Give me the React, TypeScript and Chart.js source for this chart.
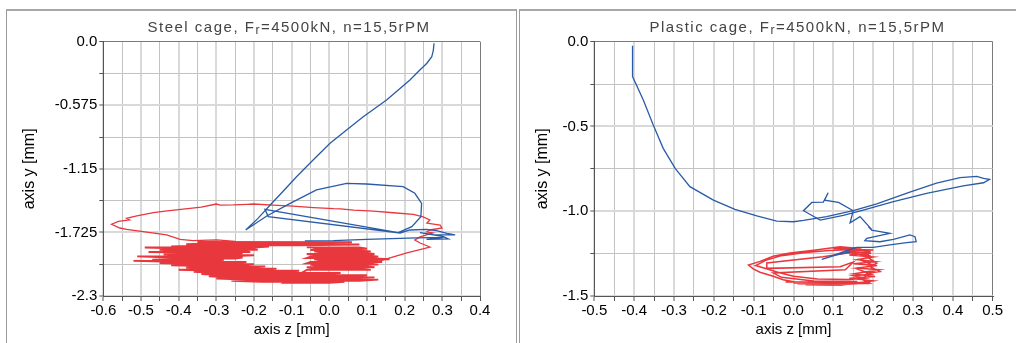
import React, { useEffect, useRef } from 'react';
import { Chart, registerables } from 'chart.js';

Chart.register(...registerables);

type Pt = [number, number];

// ---------- text ----------
const steelTitle = ['Steel cage, F', 'r', '=4500kN, n=15,5rPM'];
const plasticTitle = ['Plastic cage, F', 'r', '=4500kN, n=15,5rPM'];
const axisZTitle = 'axis z [mm]';
const axisYTitle = 'axis y [mm]';

// ---------- ticks ----------
const steelXTicks = [-0.6, -0.5, -0.4, -0.3, -0.2, -0.1, 0.0, 0.1, 0.2, 0.3, 0.4];
const steelXLabels = ['-0.6', '-0.5', '-0.4', '-0.3', '-0.2', '-0.1', '0.0', '0.1', '0.2', '0.3', '0.4'];
const steelYTicks = [0, -0.575, -1.15, -1.725, -2.3];
const steelYLabels = ['0.0', '-0.575', '-1.15', '-1.725', '-2.3'];

const plasticXTicks = [-0.5, -0.4, -0.3, -0.2, -0.1, 0.0, 0.1, 0.2, 0.3, 0.4, 0.5];
const plasticXLabels = ['-0.5', '-0.4', '-0.3', '-0.2', '-0.1', '0.0', '0.1', '0.2', '0.3', '0.4', '0.5'];
const plasticYTicks = [0, -0.5, -1.0, -1.5];
const plasticYLabels = ['0.0', '-0.5', '-1.0', '-1.5'];

// ---------- steel cage data [z, y] ----------
const steelBlue: Pt[] = [
  [0.278, -0.014], [0.276, -0.080], [0.272, -0.136], [0.259, -0.195], [0.237, -0.268], [0.214, -0.346],
  [0.152, -0.527], [0.090, -0.678], [0.045, -0.800], [0.002, -0.919], [-0.043, -1.070], [-0.087, -1.221],
  [-0.122, -1.350], [-0.157, -1.477], [-0.190, -1.600], [-0.222, -1.703],
  [-0.166, -1.576], [-0.104, -1.462], [-0.034, -1.341], [0.046, -1.281], [0.099, -1.287], [0.196, -1.311],
  [0.227, -1.371], [0.245, -1.462], [0.243, -1.583], [0.219, -1.673], [0.183, -1.727],
  [-0.171, -1.516], [-0.162, -1.582], [0.188, -1.730], [0.214, -1.703], [0.258, -1.697], [0.285, -1.709],
  [0.312, -1.733], [0.334, -1.748], [0.276, -1.745], [0.241, -1.727], [0.303, -1.763], [0.316, -1.784],
  [0.258, -1.787], [0.303, -1.769], [0.232, -1.775], [0.099, -1.787], [0.011, -1.799], [-0.065, -1.802],
];

const steelRedOutline: Pt[] = [
  [0.081, -2.010], [0.126, -1.992], [0.161, -1.956], [0.206, -1.911], [0.267, -1.857], [0.241, -1.821],
  [0.227, -1.793], [0.241, -1.766], [0.275, -1.730], [0.259, -1.721], [0.267, -1.703], [0.299, -1.685],
  [0.294, -1.658], [0.259, -1.640], [0.267, -1.612], [0.249, -1.585], [0.223, -1.562], [0.170, -1.547],
  [0.117, -1.532], [0.064, -1.524], [0.030, -1.512], [0.011, -1.510], [-0.042, -1.500], [-0.096, -1.488],
  [-0.149, -1.478], [-0.202, -1.468], [-0.219, -1.471], [-0.255, -1.476], [-0.290, -1.478], [-0.300, -1.468],
  [-0.340, -1.497], [-0.388, -1.515], [-0.430, -1.530], [-0.467, -1.546], [-0.511, -1.576], [-0.538, -1.597],
  [-0.530, -1.612], [-0.560, -1.625], [-0.578, -1.651], [-0.556, -1.685], [-0.538, -1.697], [-0.494, -1.718],
  [-0.432, -1.748], [-0.396, -1.787], [-0.362, -1.800], [-0.299, -1.793], [-0.250, -1.806],
];

const steelRedDense: Pt[] = [
  [-0.35, -1.812], [0.06, -1.814], [-0.12, -1.822], [-0.30, -1.822], [-0.38, -1.832], [0.08, -1.834],
  [-0.08, -1.842], [-0.33, -1.842], [-0.42, -1.852], [-0.16, -1.852], [-0.20, -1.862], [-0.49, -1.862],
  [-0.36, -1.872], [-0.22, -1.872], [-0.19, -1.882], [-0.45, -1.882], [-0.40, -1.892], [-0.24, -1.892],
  [-0.21, -1.902], [-0.48, -1.902], [-0.32, -1.912], [-0.23, -1.912], [-0.26, -1.922], [-0.44, -1.922],
  [-0.38, -1.932], [-0.20, -1.932], [-0.27, -1.942], [-0.51, -1.942], [-0.42, -1.952], [-0.23, -1.952],
  [-0.25, -1.962], [-0.35, -1.962], [-0.47, -1.972], [-0.28, -1.972], [-0.31, -1.982], [-0.52, -1.982],
  [-0.39, -1.992], [-0.22, -1.992], [-0.26, -2.002], [-0.45, -2.002], [-0.36, -2.012], [-0.20, -2.012],
  [-0.24, -2.022], [-0.42, -2.022], [-0.31, -2.032], [-0.17, -2.032], [-0.22, -2.042], [-0.38, -2.042],
  [-0.33, -2.052], [-0.14, -2.052], [-0.21, -2.062], [-0.40, -2.062], [-0.30, -2.072], [-0.08, -2.072],
  [-0.12, -2.082], [-0.36, -2.082], [-0.29, -2.092], [0.03, -2.092], [-0.04, -2.102], [-0.34, -2.102],
  [-0.27, -2.112], [0.10, -2.112], [0.05, -2.122], [-0.32, -2.122], [-0.25, -2.132], [0.12, -2.132],
  [0.02, -2.142], [-0.30, -2.142], [-0.22, -2.152], [0.13, -2.152], [0.08, -2.162], [-0.26, -2.162],
  [-0.18, -2.172], [0.04, -2.172], [0.00, -2.180], [-0.12, -2.180],
  [-0.06, -2.064], [0.11, -2.064], [0.08, -2.052], [-0.04, -2.052], [-0.06, -2.040], [0.12, -2.040],
  [0.09, -2.028], [-0.03, -2.028], [-0.05, -2.016], [0.13, -2.016], [0.10, -2.004], [-0.06, -2.004],
  [-0.05, -1.992], [0.14, -1.992], [0.12, -1.980], [-0.02, -1.980], [-0.04, -1.968], [0.16, -1.968],
  [0.09, -1.956], [-0.06, -1.956], [-0.05, -1.944], [0.13, -1.944], [0.10, -1.932], [-0.03, -1.932],
  [-0.06, -1.920], [0.12, -1.920], [0.09, -1.908], [-0.02, -1.908], [-0.04, -1.896], [0.11, -1.896],
  [0.06, -1.884], [-0.05, -1.884], [-0.03, -1.872], [0.10, -1.872], [0.08, -1.860], [-0.06, -1.860],
];

// ---------- plastic cage data [z, y] ----------
const plasticBlue: Pt[] = [
  [-0.404, -0.024], [-0.404, -0.206], [-0.377, -0.344], [-0.352, -0.491], [-0.327, -0.629], [-0.297, -0.747],
  [-0.260, -0.855], [-0.201, -0.934], [-0.147, -0.989], [-0.092, -1.028], [-0.042, -1.058], [0.000, -1.062],
  [0.025, -1.054], [0.083, -1.032], [0.150, -0.997], [0.209, -0.956], [0.292, -0.887], [0.359, -0.834],
  [0.418, -0.802], [0.460, -0.794], [0.477, -0.806], [0.492, -0.812], [0.477, -0.832], [0.426, -0.851],
  [0.334, -0.895], [0.251, -0.944], [0.175, -0.993], [0.125, -1.024], [0.067, -1.052],
  [0.025, -0.997], [0.046, -0.948], [0.075, -0.946], [0.087, -0.891], [0.078, -0.935], [0.113, -0.948],
  [0.150, -0.997], [0.142, -1.068], [0.167, -1.032], [0.196, -1.107], [0.188, -1.091], [0.196, -1.111],
  [0.242, -1.130], [0.184, -1.160], [0.179, -1.174], [0.217, -1.180], [0.251, -1.166], [0.292, -1.140],
  [0.305, -1.150], [0.308, -1.180], [0.284, -1.185], [0.242, -1.199], [0.200, -1.213], [0.159, -1.213],
  [0.133, -1.233], [0.092, -1.268], [0.071, -1.284], [0.108, -1.258], [0.142, -1.239],
];

const plasticRed: Pt[] = [
  [0.192, -1.239], [0.159, -1.219], [0.117, -1.209], [0.051, -1.230], [-0.009, -1.246], [-0.051, -1.266],
  [-0.084, -1.296], [-0.113, -1.317], [-0.101, -1.340], [-0.084, -1.360], [-0.051, -1.384], [-0.026, -1.404],
  [0.033, -1.430], [0.117, -1.433], [0.192, -1.424], [0.175, -1.405], [0.184, -1.366], [0.217, -1.356],
  [0.192, -1.327], [0.209, -1.307], [0.184, -1.268], [0.192, -1.240],
  [0.150, -1.226], [0.090, -1.232], [0.030, -1.244], [-0.030, -1.262], [-0.070, -1.290], [-0.095, -1.320],
  [-0.070, -1.338], [-0.040, -1.360], [0.000, -1.384], [0.060, -1.400], [0.140, -1.402], [0.180, -1.395],
  [0.150, -1.380], [0.195, -1.372], [0.160, -1.340], [0.200, -1.318], [0.170, -1.290], [0.190, -1.262],
  [0.140, -1.245],
  [0.074, -1.268], [-0.067, -1.305], [-0.067, -1.337], [0.117, -1.327], [0.150, -1.300], [0.130, -1.345],
  [-0.051, -1.364], [-0.030, -1.390], [0.050, -1.412], [0.160, -1.415],
  [-0.020, -1.418], [0.185, -1.420], [0.000, -1.423], [0.190, -1.426], [0.010, -1.428], [0.150, -1.431],
  [0.030, -1.434], [0.120, -1.436],
  [0.200, -1.410], [0.140, -1.395], [0.205, -1.385], [0.150, -1.370], [0.215, -1.345], [0.160, -1.335],
  [0.210, -1.320], [0.150, -1.310], [0.205, -1.298], [0.160, -1.285], [0.200, -1.270], [0.140, -1.258],
  [0.195, -1.248], [0.130, -1.238], [0.200, -1.228], [0.100, -1.222], [0.170, -1.215],
];

// ---------- helpers ----------
const FONT = '"Liberation Sans", Arial, sans-serif';

function withMinor(majors: number[]): number[] {
  const out: number[] = [];
  for (let i = 0; i < majors.length; i++) {
    out.push(majors[i]);
    if (i < majors.length - 1) out.push((majors[i] + majors[i + 1]) / 2);
  }
  return out;
}
const near = (a: number, b: number) => Math.abs(a - b) < 1e-6;
const labelFor = (v: number, majors: number[], labels: string[]) => {
  const i = majors.findIndex((m) => near(m, v));
  return i >= 0 ? labels[i] : '';
};

const titlePlugin = {
  id: 'cageTitle',
  afterDraw(chart: any, _args: any, opts: any) {
    const ctx = chart.ctx as CanvasRenderingContext2D;
    const parts: string[] = opts.parts;
    const fonts = [`15px ${FONT}`, `12px ${FONT}`, `15px ${FONT}`];
    const dy = [0, 1.5, 0];
    ctx.save();
    (ctx as any).letterSpacing = '1.5px';
    ctx.fillStyle = '#444';
    ctx.textBaseline = 'alphabetic';
    ctx.textAlign = 'left';
    const widths = parts.map((p, i) => {
      ctx.font = fonts[i];
      return ctx.measureText(p).width;
    });
    const total = widths.reduce((a, b) => a + b, 0);
    let x = opts.x - total / 2;
    parts.forEach((p, i) => {
      ctx.font = fonts[i];
      ctx.fillText(p, x, opts.y + dy[i]);
      x += widths[i];
    });
    ctx.restore();
  },
};

interface PanelSpec {
  blue: Pt[];
  reds: { pts: Pt[]; w: number }[];
  xTicks: number[];
  xLabels: string[];
  yTicks: number[];
  yLabels: string[];
  yAxisWidth: number;
  padRight: number;
  yTitlePad: number;
  title: string[];
  titleX: number;
}

function makeConfig(s: PanelSpec): any {
  const xMin = s.xTicks[0];
  const xMax = s.xTicks[s.xTicks.length - 1];
  const yMin = s.yTicks[s.yTicks.length - 1];
  const yMax = s.yTicks[0];
  const gridColor = (majors: number[], edge: number) => (c: any) => {
    const v = c.tick ? c.tick.value : 0;
    if (near(v, edge)) return '#7a7a7a';
    return majors.some((m) => near(m, v)) ? '#d9d9d9' : '#c3c3c3';
  };
  const gridWidth = (majors: number[], edge: number) => (c: any) => {
    const v = c.tick ? c.tick.value : 0;
    if (near(v, edge)) return 1;
    return majors.some((m) => near(m, v)) ? 2 : 1;
  };
  const line = (pts: Pt[], color: string, w: number) => ({
    data: pts.map(([x, y]) => ({ x, y })),
    showLine: true,
    borderColor: color,
    backgroundColor: color,
    borderWidth: w,
    pointRadius: 0,
    pointHoverRadius: 0,
    fill: false,
    tension: 0,
  });
  return {
    type: 'scatter',
    data: {
      datasets: [line(s.blue, '#2a5ba8', 1.3), ...s.reds.map((r) => line(r.pts, '#e8373d', r.w))],
    },
    plugins: [titlePlugin],
    options: {
      responsive: false,
      animation: false,
      devicePixelRatio: 1,
      layout: { padding: { top: 41.7, left: 0, right: s.padRight, bottom: 0 } },
      plugins: {
        legend: { display: false },
        tooltip: { enabled: false },
        title: { display: false },
        cageTitle: { parts: s.title, x: s.titleX, y: 32 },
      },
      scales: {
        x: {
          type: 'linear',
          min: xMin,
          max: xMax,
          afterBuildTicks: (scale: any) => {
            scale.ticks = withMinor(s.xTicks).map((v) => ({ value: v }));
          },
          afterFit: (scale: any) => {
            scale.height = 47;
          },
          ticks: {
            autoSkip: false,
            maxRotation: 0,
            padding: 1,
            color: '#000',
            font: { family: FONT, size: 15 },
            callback: (v: number) => labelFor(v, s.xTicks, s.xLabels),
          },
          grid: {
            color: gridColor(s.xTicks, xMax),
            lineWidth: gridWidth(s.xTicks, xMax),
            tickColor: '#555',
            tickWidth: 1,
            tickLength: 5,
          },
          border: { color: '#555', width: 1 },
          title: {
            display: true,
            text: axisZTitle,
            color: '#000',
            font: { family: FONT, size: 15 },
            padding: { top: 0, bottom: 4 },
          },
        },
        y: {
          type: 'linear',
          min: yMin,
          max: yMax,
          afterBuildTicks: (scale: any) => {
            scale.ticks = withMinor(s.yTicks).map((v) => ({ value: v }));
          },
          afterFit: (scale: any) => {
            scale.width = s.yAxisWidth;
          },
          ticks: {
            autoSkip: false,
            padding: 2,
            color: '#000',
            font: { family: FONT, size: 15 },
            callback: (v: number) => labelFor(v, s.yTicks, s.yLabels),
          },
          grid: {
            color: gridColor(s.yTicks, yMax),
            lineWidth: gridWidth(s.yTicks, yMax),
            tickColor: '#555',
            tickWidth: 1,
            tickLength: 4,
          },
          border: { color: '#555', width: 1 },
          title: {
            display: true,
            text: axisYTitle,
            color: '#000',
            font: { family: FONT, size: 16 },
            padding: { top: s.yTitlePad, bottom: 0 },
          },
        },
      },
    },
  };
}

function ChartCanvas({ spec, left, width }: { spec: PanelSpec; left: number; width: number }) {
  const ref = useRef<HTMLCanvasElement>(null);
  useEffect(() => {
    if (!ref.current) return;
    const chart = new Chart(ref.current, makeConfig(spec));
    return () => chart.destroy();
  }, []);
  return (
    <canvas
      ref={ref}
      width={width}
      height={343}
      style={{ position: 'absolute', left, top: 0, width, height: 343 }}
    />
  );
}

const steelSpec: PanelSpec = {
  blue: steelBlue,
  reds: [
    { pts: steelRedOutline, w: 1.3 },
    { pts: steelRedDense, w: 1.9 },
  ],
  xTicks: steelXTicks,
  xLabels: steelXLabels,
  yTicks: steelYTicks,
  yLabels: steelYLabels,
  yAxisWidth: 103.3,
  padRight: 38,
  yTitlePad: 20.4,
  title: steelTitle,
  titleX: 289,
};

const plasticSpec: PanelSpec = {
  blue: plasticBlue,
  reds: [{ pts: plasticRed, w: 1.5 }],
  xTicks: plasticXTicks,
  xLabels: plasticXLabels,
  yTicks: plasticYTicks,
  yLabels: plasticYLabels,
  yAxisWidth: 76.3,
  padRight: 23.3,
  yTitlePad: 15.4,
  title: plasticTitle,
  titleX: 279.5,
};

export default function App() {
  return (
    <div style={{ position: 'absolute', left: 0, top: 0, width: 1016, height: 343, background: '#fff', overflow: 'hidden' }}>
      <div
        style={{
          position: 'absolute',
          left: 6,
          top: 9,
          width: 509,
          height: 340,
          borderTop: '2px solid #a8a8a8',
          borderLeft: '1px solid #9a9a9a',
          borderRight: '1px solid #9a9a9a',
        }}
      />
      <div
        style={{
          position: 'absolute',
          left: 519,
          top: 9,
          width: 500,
          height: 340,
          borderTop: '2px solid #a8a8a8',
          borderLeft: '1px solid #9a9a9a',
        }}
      />
      <ChartCanvas spec={steelSpec} left={0} width={518} />
      <ChartCanvas spec={plasticSpec} left={518} width={498} />
    </div>
  );
}
